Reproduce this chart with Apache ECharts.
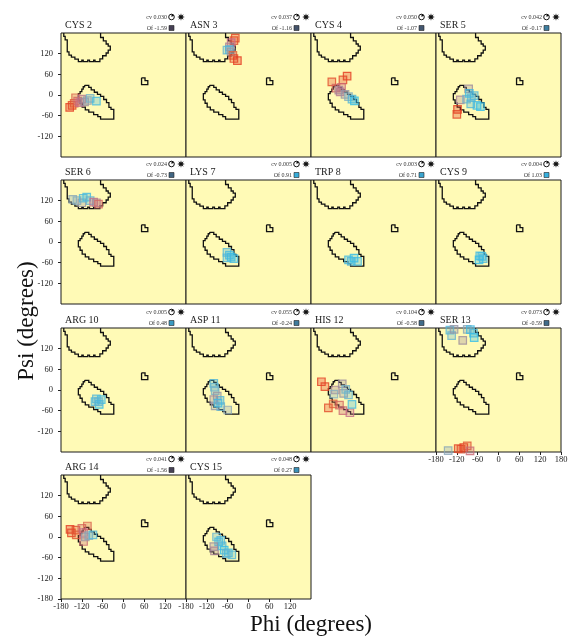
<!DOCTYPE html>
<html><head><meta charset="utf-8">
<script src="https://cdn.jsdelivr.net/npm/echarts@6/dist/echarts.min.js"></script>
<style>html,body{margin:0;padding:0;background:#fff}#c{width:571px;height:637px}</style>
</head><body><div id="c"></div>
<script>
// ---------- data ----------
const panelNames = ['CYS 2','ASN 3','CYS 4','SER 5','SER 6','LYS 7','TRP 8','CYS 9','ARG 10','ASP 11','HIS 12','SER 13','ARG 14','CYS 15'];
const cvValues = ['0.030','0.037','0.050','0.042','0.024','0.005','0.003','0.004','0.005','0.055','0.104','0.073','0.041','0.048'];
const ofValues = ['-1.59','-1.16','-1.07','-0.17','-0.73','0.91','0.71','1.03','0.48','-0.24','-0.58','-0.59','-1.56','0.27'];
const axisTicks = [-180,-120,-60,0,60,120,180];

// [phi, psi, time fraction]
const cys2Points = [[-155,-36,0.0],[-148,-30,0.05],[-142,-24,0.15],[-138,-8,0.25],[-132,-18,0.3],[-126,-22,0.4],[-120,-12,0.45],[-112,-20,0.55],[-104,-16,0.65],[-96,-10,0.8],[-78,-18,0.95]];
const asn3Points = [[-38,165,0.05],[-42,158,0.1],[-50,152,0.4],[-55,140,0.5],[-62,130,0.85],[-55,132,0.9],[-50,125,0.6],[-45,115,0.2],[-42,106,0.05],[-32,100,0.0]];
const cys4Points = [[-76,55,0.0],[-88,44,0.05],[-120,38,0.1],[-108,20,0.3],[-92,22,0.35],[-96,9,0.45],[-100,14,0.5],[-82,2,0.6],[-72,-5,0.75],[-62,-12,0.9],[-55,-17,1.0]];
const ser5Points = [[-86,18,0.55],[-110,-14,0.5],[-118,-42,0.0],[-120,-56,0.05],[-92,-12,0.8],[-78,-8,0.85],[-70,-2,0.9],[-84,5,0.95],[-80,-26,0.9],[-62,-30,0.95],[-52,-34,1.0]];
const ser6Points = [[-146,124,0.7],[-134,120,0.75],[-120,114,0.6],[-116,127,0.9],[-106,130,0.95],[-96,120,0.85],[-86,116,0.4],[-78,114,0.5],[-72,110,0.3]];
const lys7Points = [[-62,-30,0.9],[-55,-38,0.95],[-50,-44,1.0],[-62,-46,0.9],[-42,-48,0.95]];
const trp8Points = [[-72,-52,0.95],[-64,-56,0.9],[-56,-47,1.0],[-46,-56,0.95]];
const cys9Points = [[-54,-40,0.95],[-44,-48,0.9],[-56,-52,1.0],[-48,-42,0.95]];
const arg10Points = [[-78,-26,0.9],[-64,-28,0.95],[-70,-42,1.0],[-82,-34,0.9],[-72,-34,0.85]];
const asp11Points = [[-100,19,0.9],[-98,8,0.85],[-96,-2,0.8],[-90,-18,0.6],[-82,-30,0.9],[-100,-28,0.55],[-96,-46,0.6],[-80,-48,0.85],[-60,-58,0.7],[-88,-38,0.95]];
const his12Points = [[-150,24,0.0],[-140,10,0.05],[-130,-52,0.1],[-116,-40,0.2],[-98,-44,0.3],[-88,-60,0.35],[-68,-66,0.4],[-110,0,0.5],[-90,18,0.55],[-86,-10,0.6],[-80,2,0.8],[-72,-14,0.85],[-62,-42,0.95],[-114,-12,0.75]];
const ser13Points = [[-140,174,0.9],[-135,158,0.85],[-128,176,0.6],[-103,144,0.55],[-90,176,0.7],[-81,175,0.95],[-72,165,0.9],[-70,152,1.0],[-145,-176,0.7],[-116,-170,0.05],[-108,-172,0.1],[-100,-167,0.0],[-90,-162,0.15],[-82,-177,0.35]];
const arg14Points = [[-154,22,0.0],[-150,12,0.05],[-137,20,0.1],[-136,6,0.15],[-120,25,0.3],[-104,32,0.25],[-115,13,0.4],[-115,-13,0.35],[-110,0,0.6],[-100,4,0.7],[-88,6,0.9]];
const cys15Points = [[-92,0,0.85],[-80,-10,0.9],[-86,-14,0.95],[-100,-28,0.55],[-98,-40,0.5],[-76,-26,0.9],[-70,-38,1.0],[-58,-46,0.95],[-48,-52,0.9],[-64,-48,0.85]];
const panelPoints = [cys2Points,asn3Points,cys4Points,ser5Points,ser6Points,lys7Points,trp8Points,cys9Points,arg10Points,asp11Points,his12Points,ser13Points,arg14Points,cys15Points];

// allowed-region contours [phi, psi]
const betaContour = [[-172,180],[-172,170],[-168,170],[-168,160],[-162,160],[-162,125],[-157,125],[-157,116],[-150,116],[-150,110],[-140,110],[-140,104],[-130,104],[-130,97],[-120,97],[-120,101],[-116,101],[-116,97],[-103,97],[-103,101],[-98,101],[-98,97],[-86,97],[-86,101],[-82,101],[-82,97],[-68,97],[-68,105],[-60,105],[-60,114],[-50,114],[-50,122],[-44,122],[-44,130],[-38,130],[-38,142],[-44,142],[-44,148],[-50,148],[-50,157],[-58,157],[-58,167],[-66,167],[-66,180]];
const alphaContour = [[-112,28],[-100,28],[-100,22],[-93,22],[-93,15],[-84,15],[-84,8],[-75,8],[-75,2],[-66,2],[-66,-4],[-57,-4],[-57,-13],[-49,-13],[-49,-22],[-42,-22],[-42,-36],[-36,-36],[-36,-42],[-28,-42],[-28,-70],[-66,-70],[-66,-63],[-74,-63],[-74,-57],[-86,-57],[-86,-50],[-100,-50],[-100,-43],[-110,-43],[-110,-35],[-119,-35],[-119,-24],[-125,-24],[-125,-14],[-130,-14],[-130,4],[-125,4],[-125,10],[-120,10],[-120,17],[-116,17],[-116,24],[-112,24],[-112,28]];
const leftAlphaContour = [[52,50],[62,50],[62,42],[70,42],[70,30],[52,30],[52,50]];

// ---------- layout ----------
const colLeft = [61,186,311,436];
const rowTop = [33,180,328,475];
const PW = 125, PH = 124;
const FONT = '"Liberation Serif", "Times New Roman", serif';

const stops = [[0,[227,57,31]],[0.2,[224,96,58]],[0.4,[196,110,138]],[0.55,[156,140,156]],[0.75,[132,174,191]],[1,[51,189,233]]];
function timeColor(t){
  for(let k=1;k<stops.length;k++){
    if(t<=stops[k][0]){
      const a=stops[k-1],b=stops[k],f=(t-a[0])/(b[0]-a[0]);
      return a[1].map((v,j)=>Math.round(v+(b[1][j]-v)*f));
    }
  }
  return stops[stops.length-1][1];
}
function ofColor(v){
  const f=Math.max(0,Math.min(1,(v+1.6)/2.6));
  const a=[70,64,84],b=[56,176,222];
  return 'rgb('+a.map((x,j)=>Math.round(x+(b[j]-x)*f)).join(',')+')';
}

const grids=[],xAxes=[],yAxes=[],series=[],graphics=[];
panelNames.forEach((name,i)=>{
  const r=Math.floor(i/4),c=i%4;
  const L=colLeft[c],T=rowTop[r],R=L+PW;
  grids.push({left:L,top:T,width:PW,height:PH,show:true,backgroundColor:'#fffab6',borderColor:'#1a1a1a',borderWidth:1});
  const showX = i>=11;
  xAxes.push({gridIndex:i,type:'value',min:-180,max:180,interval:60,position:'bottom',
    axisLine:{show:false,onZero:false},splitLine:{show:false},
    axisTick:{show:showX,length:3,lineStyle:{color:'#222'}},
    axisLabel:{show:showX,fontSize:8.5,fontFamily:FONT,color:'#222',margin:3,showMaxLabel:i===11,showMinLabel:true}});
  const showY = c===0;
  yAxes.push({gridIndex:i,type:'value',min:-180,max:180,interval:60,position:'left',
    axisLine:{show:false,onZero:false},splitLine:{show:false},
    axisTick:{show:showY,length:3,lineStyle:{color:'#222'}},
    axisLabel:{show:showY,fontSize:8.5,fontFamily:FONT,color:'#222',margin:8,showMaxLabel:false,showMinLabel:i===12}});
  series.push({type:'lines',coordinateSystem:'cartesian2d',xAxisIndex:i,yAxisIndex:i,polyline:true,silent:true,
    lineStyle:{color:'#111',width:1.3,opacity:1},
    data:[{coords:betaContour},{coords:alphaContour},{coords:leftAlphaContour}]});
  series.push({type:'scatter',xAxisIndex:i,yAxisIndex:i,symbol:'rect',symbolSize:7.5,silent:true,
    data:panelPoints[i].map(p=>{const col=timeColor(p[2]);return {value:[p[0],p[1]],itemStyle:{
      color:'rgba('+col.join(',')+',0.4)',borderColor:'rgb('+col.join(',')+')',borderWidth:1.2}};})});
  // headers
  graphics.push({type:'text',x:L+4,y:T-3,style:{text:name,font:'10px '+FONT,fill:'#222',textAlign:'left',textVerticalAlign:'bottom',align:'left',verticalAlign:'bottom'}});
  graphics.push({type:'text',x:R-19,y:T-16,style:{text:'cv '+cvValues[i],font:'6px '+FONT,fill:'#333',textAlign:'right',textVerticalAlign:'middle',align:'right',verticalAlign:'middle'}});
  graphics.push({type:'text',x:R-19,y:T-5,style:{text:'Of '+ofValues[i],font:'6px '+FONT,fill:'#333',textAlign:'right',textVerticalAlign:'middle',align:'right',verticalAlign:'middle'}});
  graphics.push({type:'circle',shape:{cx:R-14.5,cy:T-16,r:2.8},style:{fill:'#fff',stroke:'#111',lineWidth:1}});
  graphics.push({type:'sector',shape:{cx:R-14.5,cy:T-16,r0:0,r:2.8,startAngle:-Math.PI/2,endAngle:-Math.PI/6,clockwise:true},style:{fill:'#111'}});
  const pts=[];
  for(let k=0;k<16;k++){const a=k*Math.PI/8,rr=k%2?1.7:3.8;pts.push([R-5+rr*Math.cos(a),T-16+rr*Math.sin(a)]);}
  graphics.push({type:'polygon',shape:{points:pts},style:{fill:'#111'}});
  graphics.push({type:'rect',shape:{x:R-17,y:T-7.5,width:5,height:5},style:{fill:ofColor(parseFloat(ofValues[i])),stroke:'#222',lineWidth:0.6}});
});
graphics.push({type:'text',x:27,y:321,rotation:Math.PI/2,style:{text:'Psi (degrees)',font:'23px '+FONT,fill:'#111',textAlign:'center',textVerticalAlign:'middle',align:'center',verticalAlign:'middle'}});
graphics.push({type:'text',x:311,y:625,style:{text:'Phi (degrees)',font:'23px '+FONT,fill:'#111',textAlign:'center',textVerticalAlign:'middle',align:'center',verticalAlign:'middle'}});

const chart=echarts.init(document.getElementById('c'),null,{renderer:'canvas'});
chart.setOption({animation:false,grid:grids,xAxis:xAxes,yAxis:yAxes,series:series,graphic:{elements:graphics}});
</script></body></html>
